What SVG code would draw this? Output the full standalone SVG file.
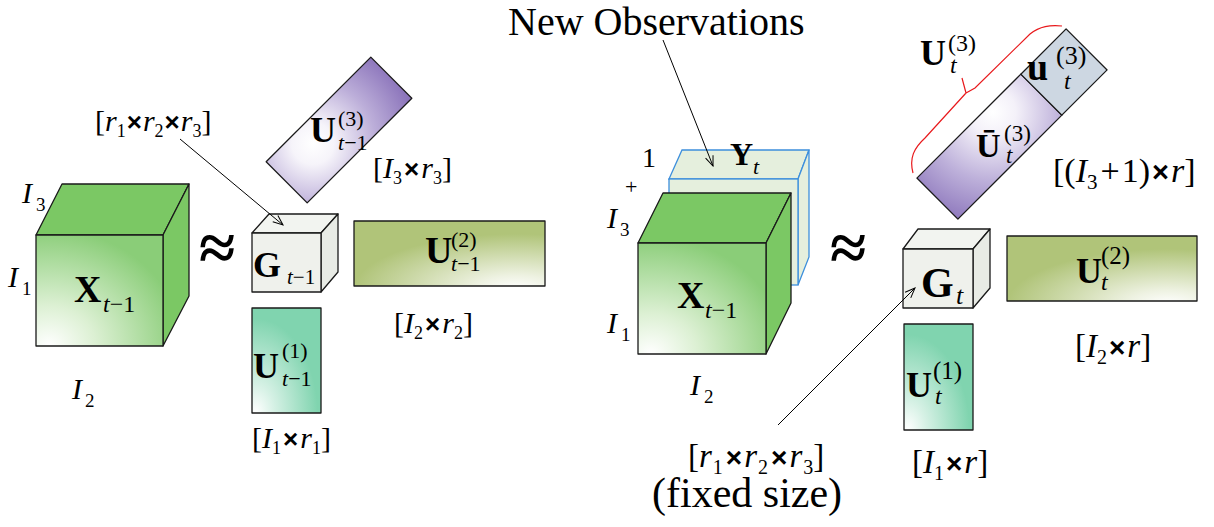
<svg xmlns="http://www.w3.org/2000/svg" width="1214" height="527" viewBox="0 0 1214 527">
<style>
.t{font-family:"Liberation Serif","Times New Roman",serif;fill:#000}
.b{font-weight:bold}
.i{font-style:italic}
.x{font-family:"Liberation Sans",Arial,sans-serif;font-weight:bold}
.edge{stroke:#1a1a1a;stroke-width:1.3;stroke-linejoin:round}
.gside{fill:#7bc864}
.core{fill:#eff1ec}
.coretop{fill:#f2f4f0}
.coreside{fill:#e8ebe5}
.conn{fill:none;stroke:#000;stroke-width:1}
</style>
<defs>
<radialGradient id="gX" cx="0.1" cy="1" r="1.05" fx="0.1" fy="1">
<stop offset="0" stop-color="#ffffff"/>
<stop offset="0.35" stop-color="#dcf0d3"/>
<stop offset="1" stop-color="#8acd78"/>
</radialGradient>
<radialGradient id="gU2" cx="0.85" cy="1.05" r="0.85" fx="0.85" fy="1.05">
<stop offset="0" stop-color="#ffffff"/>
<stop offset="0.25" stop-color="#eef2e2"/>
<stop offset="1" stop-color="#b0c479"/>
</radialGradient>
<radialGradient id="gU1" cx="0.05" cy="1" r="0.9" fx="0.05" fy="1">
<stop offset="0" stop-color="#ffffff"/>
<stop offset="0.3" stop-color="#d6f1e5"/>
<stop offset="1" stop-color="#80d4af"/>
</radialGradient>
<radialGradient id="gU3" gradientUnits="userSpaceOnUse" cx="-28" cy="-9" r="105" fx="-28" fy="-9">
<stop offset="0" stop-color="#ffffff"/>
<stop offset="0.2" stop-color="#f6f4fa"/>
<stop offset="0.6" stop-color="#bcaed9"/>
<stop offset="1" stop-color="#8c75bb"/>
</radialGradient>
<radialGradient id="gUb" gradientUnits="userSpaceOnUse" cx="-5" cy="-22" r="115" fx="-5" fy="-22">
<stop offset="0" stop-color="#ffffff"/>
<stop offset="0.2" stop-color="#f4f1f9"/>
<stop offset="0.6" stop-color="#bdb0da"/>
<stop offset="1" stop-color="#8d77bc"/>
</radialGradient>
<marker id="ah" markerWidth="12" markerHeight="10" refX="11" refY="5" orient="auto" markerUnits="userSpaceOnUse">
<path d="M1,1 L11,5 L1,9" fill="none" stroke="#000" stroke-width="1"/>
</marker>
</defs>
<rect width="1214" height="527" fill="#ffffff"/>

<!-- LEFT SIDE -->
<g id="X_left">
<polygon class="gside edge" points="36,235 62,184 189,184 163,235"/>
<polygon class="gside edge" points="163,235 189,184 189,296 163,346"/>
<rect class="edge" x="36" y="235" width="127" height="111" fill="url(#gX)"/>
<text class="t b" x="74" y="302" font-size="38">X</text>
<text class="t" x="103" y="312" font-size="24"><tspan class="i">t</tspan>−1</text>
<text class="t i" x="22" y="203" font-size="30">I</text><text class="t" x="36" y="211" font-size="19">3</text>
<text class="t i" x="8" y="287" font-size="30">I</text><text class="t" x="22" y="295" font-size="19">1</text>
<text class="t i" x="72" y="399" font-size="30">I</text><text class="t" x="85" y="407" font-size="19">2</text>
</g>
<g id="approx_left">
<text class="t b" x="199" y="270" font-size="66">≈</text>
</g>
<g id="G_left">
<polygon class="coretop edge" points="252,233 269,214 338,214 321,233"/>
<polygon class="coreside edge" points="321,233 338,214 338,272 321,292"/>
<rect class="core edge" x="252" y="233" width="69" height="59"/>
<text class="t b" x="253" y="277" font-size="36">G</text>
<text class="t" x="287" y="284" font-size="21"><tspan class="i">t</tspan>−1</text>
<text class="t" x="95" y="131" font-size="30">[<tspan class="i">r</tspan><tspan font-size="18" dy="6">1</tspan><tspan class="x" dy="-6" dx="1" font-size="26">×</tspan><tspan class="i" dx="1">r</tspan><tspan font-size="18" dy="6">2</tspan><tspan class="x" dy="-6" dx="1" font-size="26">×</tspan><tspan class="i" dx="1">r</tspan><tspan font-size="18" dy="6">3</tspan><tspan dy="-6">]</tspan></text>
</g>
<g id="U3_left">
<g transform="translate(339,130) rotate(-45)">
<rect class="edge" x="-74" y="-29" width="148" height="58" fill="url(#gU3)"/>
</g>
<text class="t b" x="310" y="142" font-size="36">U</text>
<text class="t" x="338" y="126" font-size="22">(3)</text>
<text class="t" x="338" y="150" font-size="22"><tspan class="i">t</tspan>−1</text>
<text class="t" x="373" y="178" font-size="30">[<tspan class="i">I</tspan><tspan font-size="18" dy="6">3</tspan><tspan class="x" dy="-6" dx="2" font-size="26">×</tspan><tspan class="i" dx="2">r</tspan><tspan font-size="18" dy="6">3</tspan><tspan dy="-6">]</tspan></text>
</g>
<g id="U2_left">
<rect class="edge" x="354" y="221" width="191" height="65" fill="url(#gU2)"/>
<text class="t b" x="425" y="263" font-size="38">U</text>
<text class="t" x="451" y="247" font-size="22">(2)</text>
<text class="t" x="451" y="271" font-size="22"><tspan class="i">t</tspan>−1</text>
<text class="t" x="394" y="333" font-size="30">[<tspan class="i">I</tspan><tspan font-size="18" dy="6">2</tspan><tspan class="x" dy="-6" dx="2" font-size="26">×</tspan><tspan class="i" dx="2">r</tspan><tspan font-size="18" dy="6">2</tspan><tspan dy="-6">]</tspan></text>
</g>
<g id="U1_left">
<rect class="edge" x="252" y="308" width="69" height="105" fill="url(#gU1)"/>
<text class="t b" x="253" y="378" font-size="36">U</text>
<text class="t" x="282" y="358" font-size="22">(1)</text>
<text class="t" x="282" y="386" font-size="22"><tspan class="i">t</tspan>−1</text>
<text class="t" x="252" y="448" font-size="30">[<tspan class="i">I</tspan><tspan font-size="18" dy="6">1</tspan><tspan class="x" dy="-6" dx="2" font-size="26">×</tspan><tspan class="i" dx="2">r</tspan><tspan font-size="18" dy="6">1</tspan><tspan dy="-6">]</tspan></text>
</g>

<!-- RIGHT SIDE -->
<g id="title">
<text class="t" x="508" y="35" font-size="40">New Observations</text>
</g>
<g id="Y_new">
<polygon points="669,179 682,150 809,150 798,179" fill="#e5efdd" stroke="#3d8fdc" stroke-width="1.3"/>
<polygon points="798,179 809,150 809,257 798,285" fill="#e5efdd" stroke="#3d8fdc" stroke-width="1.3"/>
<rect x="669" y="179" width="129" height="106" fill="#e5efdd" stroke="#3d8fdc" stroke-width="1.3"/>
<text class="t b" x="730" y="165" font-size="32">Y</text>
<text class="t i" x="753" y="174" font-size="22">t</text>
</g>
<g id="X_right">
<polygon class="gside edge" points="638,243 663,193 791,193 766,243"/>
<polygon class="gside edge" points="766,243 791,193 791,303 766,354"/>
<rect class="edge" x="638" y="243" width="128" height="111" fill="url(#gX)"/>
<text class="t b" x="677" y="308" font-size="38">X</text>
<text class="t" x="705" y="318" font-size="24"><tspan class="i">t</tspan>−1</text>
<text class="t" x="642" y="167" font-size="28">1</text>
<text class="t" x="625" y="194" font-size="22">+</text>
<text class="t i" x="607" y="228" font-size="30">I</text><text class="t" x="620" y="236" font-size="19">3</text>
<text class="t i" x="607" y="333" font-size="30">I</text><text class="t" x="621" y="341" font-size="19">1</text>
<text class="t i" x="690" y="395" font-size="30">I</text><text class="t" x="704" y="403" font-size="19">2</text>
</g>
<g id="approx_right">
<text class="t b" x="830" y="270" font-size="66">≈</text>
</g>
<g id="G_right">
<polygon class="coretop edge" points="903,249 918,229 990,229 973,249"/>
<polygon class="coreside edge" points="973,249 990,229 990,288 973,308"/>
<rect class="core edge" x="903" y="249" width="70" height="59"/>
<text class="t b" x="921" y="297" font-size="42">G</text>
<text class="t i" x="956" y="304" font-size="26">t</text>
<text class="t" x="688" y="467" font-size="33">[<tspan class="i">r</tspan><tspan font-size="20" dy="7" dx="1">1</tspan><tspan class="x" dy="-7" dx="3" font-size="28">×</tspan><tspan class="i" dx="2">r</tspan><tspan font-size="20" dy="7" dx="1">2</tspan><tspan class="x" dy="-7" dx="3" font-size="28">×</tspan><tspan class="i" dx="2">r</tspan><tspan font-size="20" dy="7" dx="1">3</tspan><tspan dy="-7">]</tspan></text>
<text class="t" x="652" y="507" font-size="42">(fixed size)</text>
</g>
<g id="U3_right">
<g transform="translate(1012,124) rotate(-45)">
<rect class="edge" x="-105.5" y="-29" width="147" height="58" fill="url(#gUb)"/>
<rect class="edge" x="41.5" y="-29" width="64" height="58" fill="#cdd7e2"/>
</g>
<path d="M913,173 C909,158 914,148 925,138 L966,93 M966,93 L962,78 M966,93 L975,88 L1030,34 C1040,26 1050,25 1062,26" fill="none" stroke="#e8191c" stroke-width="1.2"/>
<text class="t b" x="920" y="65" font-size="36">U</text>
<text class="t" x="948" y="51" font-size="24">(3)</text>
<text class="t i" x="950" y="73" font-size="24">t</text>
<text class="t b" x="1027" y="80" font-size="38">u</text>
<text class="t" x="1056" y="64" font-size="26">(3)</text>
<text class="t i" x="1064" y="89" font-size="24">t</text>
<text class="t b" x="976" y="157" font-size="34">Ū</text>
<text class="t" x="1004" y="141" font-size="23">(3)</text>
<text class="t i" x="1006" y="163" font-size="23">t</text>
<text class="t" x="1053" y="182" font-size="34">[(<tspan class="i">I</tspan><tspan font-size="21" dy="7">3</tspan><tspan dy="-7" dx="3">+</tspan><tspan dx="2">1)</tspan><tspan class="x" dx="2" font-size="29">×</tspan><tspan class="i" dx="2">r</tspan>]</text>
</g>
<g id="U2_right">
<rect class="edge" x="1007" y="236" width="190" height="65" fill="url(#gU2)"/>
<text class="t b" x="1076" y="283" font-size="36">U</text>
<text class="t" x="1101" y="264" font-size="25">(2)</text>
<text class="t i" x="1101" y="290" font-size="24">t</text>
<text class="t" x="1075" y="357" font-size="33">[<tspan class="i">I</tspan><tspan font-size="20" dy="7">2</tspan><tspan class="x" dy="-7" dx="2" font-size="28">×</tspan><tspan class="i" dx="2">r</tspan>]</text>
</g>
<g id="U1_right">
<rect class="edge" x="904" y="324" width="69" height="106" fill="url(#gU1)"/>
<text class="t b" x="906" y="397" font-size="36">U</text>
<text class="t" x="933" y="379" font-size="25">(1)</text>
<text class="t i" x="935" y="404" font-size="24">t</text>
<text class="t" x="912" y="473" font-size="33">[<tspan class="i">I</tspan><tspan font-size="20" dy="7">1</tspan><tspan class="x" dy="-7" dx="2" font-size="28">×</tspan><tspan class="i" dx="2">r</tspan>]</text>
</g>

<g id="connectors">
<line class="conn" x1="180" y1="139" x2="283" y2="225" marker-end="url(#ah)"/>
<line class="conn" x1="663" y1="40" x2="713" y2="166" marker-end="url(#ah)"/>
<line class="conn" x1="778" y1="425" x2="915" y2="288" marker-end="url(#ah)"/>
</g>
</svg>
